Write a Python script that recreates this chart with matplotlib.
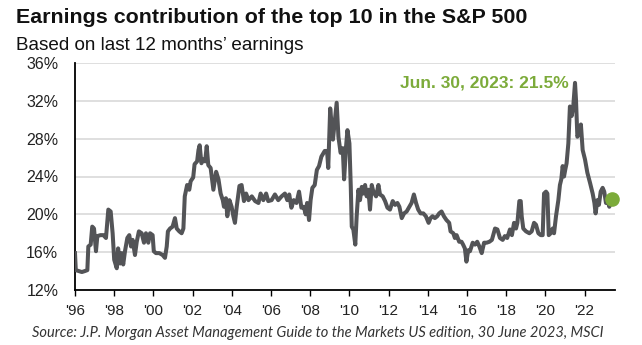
import matplotlib
matplotlib.use("Agg")
import matplotlib.pyplot as plt
import numpy as np

# ---- data (decimal year, % of S&P 500 earnings from top 10) ----
years = [
    1996.00, 1996.04, 1996.20, 1996.35, 1996.50, 1996.63, 1996.68, 1996.80, 1996.88, 1996.97,
    1997.02, 1997.07, 1997.14, 1997.30, 1997.45, 1997.58, 1997.70, 1997.82, 1997.92, 1998.00,
    1998.13, 1998.20, 1998.30, 1998.38, 1998.46, 1998.55, 1998.67, 1998.77, 1998.86, 1998.94,
    1999.06, 1999.15, 1999.26, 1999.40, 1999.52, 1999.62, 1999.74, 1999.83, 1999.96, 2000.02,
    2000.13, 2000.30, 2000.47, 2000.59, 2000.68, 2000.74, 2000.85, 2000.98, 2001.10, 2001.19,
    2001.32, 2001.44, 2001.53, 2001.60, 2001.72, 2001.83, 2001.90, 2002.03, 2002.10, 2002.23,
    2002.30, 2002.36, 2002.45, 2002.55, 2002.64, 2002.72, 2002.80, 2002.92, 2003.06, 2003.20,
    2003.32, 2003.43, 2003.54, 2003.60, 2003.70, 2003.77, 2003.88, 2003.99, 2004.08, 2004.16,
    2004.25, 2004.39, 2004.50, 2004.62, 2004.73, 2004.85, 2005.02, 2005.19, 2005.36, 2005.47,
    2005.61, 2005.75, 2005.86, 2006.03, 2006.20, 2006.37, 2006.54, 2006.71, 2006.83, 2006.93,
    2007.04, 2007.16, 2007.30, 2007.43, 2007.55, 2007.67, 2007.77, 2007.84, 2007.94, 2008.02,
    2008.11, 2008.23, 2008.34, 2008.45, 2008.57, 2008.74, 2008.86, 2008.92, 2009.02, 2009.16,
    2009.35, 2009.44, 2009.55, 2009.66, 2009.73, 2009.83, 2009.90, 2010.00, 2010.07, 2010.12,
    2010.20, 2010.30, 2010.37, 2010.46, 2010.54, 2010.63, 2010.71, 2010.80, 2010.88, 2010.97,
    2011.05, 2011.14, 2011.22, 2011.36, 2011.48, 2011.56, 2011.70, 2011.82, 2011.94, 2012.07,
    2012.21, 2012.33, 2012.45, 2012.55, 2012.67, 2012.79, 2012.92, 2013.06, 2013.17, 2013.29,
    2013.40, 2013.51, 2013.63, 2013.77, 2013.90, 2014.04, 2014.14, 2014.24, 2014.36, 2014.48,
    2014.58, 2014.70, 2014.82, 2014.95, 2015.09, 2015.16, 2015.30, 2015.38, 2015.47, 2015.60,
    2015.72, 2015.80, 2015.89, 2015.97, 2016.06, 2016.15, 2016.29, 2016.41, 2016.52, 2016.63,
    2016.75, 2016.87, 2017.00, 2017.14, 2017.27, 2017.43, 2017.55, 2017.68, 2017.82, 2017.93,
    2018.05, 2018.19, 2018.29, 2018.40, 2018.50, 2018.57, 2018.67, 2018.74, 2018.79, 2018.87,
    2019.01, 2019.18, 2019.30, 2019.42, 2019.52, 2019.64, 2019.76, 2019.86, 2019.93, 2020.03,
    2020.10, 2020.17, 2020.27, 2020.37, 2020.44, 2020.54, 2020.66, 2020.74, 2020.81, 2020.88,
    2020.95, 2021.01, 2021.08, 2021.17, 2021.25, 2021.34, 2021.42, 2021.51, 2021.56, 2021.63,
    2021.73, 2021.81, 2021.90, 2022.02, 2022.14, 2022.28, 2022.41, 2022.50, 2022.56, 2022.65,
    2022.73, 2022.82, 2022.92, 2023.00, 2023.09, 2023.17, 2023.26, 2023.32,
]
pct = [
    15.9, 14.1, 14.0, 13.9, 14.0, 14.1, 16.6, 16.8, 18.7, 18.5,
    17.3, 16.1, 17.7, 17.8, 17.8, 17.5, 20.5, 20.3, 18.0, 15.2,
    14.3, 16.4, 14.8, 15.9, 14.7, 16.1, 17.5, 17.8, 16.6, 17.3,
    15.7, 17.1, 18.2, 18.0, 17.0, 18.0, 17.0, 18.0, 17.8, 16.1,
    15.9, 15.9, 15.7, 15.4, 16.6, 18.2, 18.5, 18.7, 19.6, 18.5,
    18.2, 18.0, 18.5, 21.9, 23.1, 22.6, 23.5, 23.9, 25.3, 25.6,
    26.8, 27.3, 25.4, 25.8, 25.6, 27.2, 25.2, 24.9, 22.6, 24.5,
    23.7, 22.2, 21.5, 20.8, 21.7, 19.8, 21.5, 20.8, 19.8, 19.1,
    20.8, 23.0, 23.1, 21.4, 22.2, 21.5, 21.9, 21.4, 21.2, 22.2,
    21.5, 22.2, 21.4, 21.5, 22.1, 21.5, 21.9, 22.2, 21.5, 22.1,
    20.7, 21.5, 21.2, 22.4, 20.7, 20.8, 20.0, 21.2, 19.4, 21.5,
    22.8, 23.1, 24.7, 25.1, 26.1, 26.7, 26.7, 24.9, 31.2, 27.9,
    31.8, 28.2, 26.5, 27.0, 23.7, 27.2, 28.9, 27.5, 22.9, 18.7,
    18.4, 16.8, 19.8, 22.6, 21.5, 22.9, 22.2, 23.1, 21.9, 22.6,
    20.5, 23.1, 22.4, 21.9, 23.1, 22.1, 21.9, 21.4, 20.7, 20.5,
    21.4, 21.0, 21.2, 20.8, 19.6, 20.1, 20.3, 20.8, 21.2, 22.1,
    21.2, 20.5, 20.1, 20.1, 19.8, 19.1, 19.6, 19.8, 19.6, 19.8,
    20.1, 20.3, 19.8, 19.4, 19.1, 18.2, 18.0, 17.5, 17.8, 17.1,
    17.1, 16.8, 16.4, 15.0, 16.2, 16.1, 17.0, 16.8, 17.1, 16.6,
    15.9, 17.0, 17.0, 17.1, 17.3, 18.5, 18.4, 17.5, 17.3, 17.7,
    17.5, 18.4, 17.8, 19.1, 18.5, 19.1, 21.4, 21.4, 19.8, 18.5,
    18.2, 18.0, 18.2, 19.1, 18.9, 18.0, 17.8, 17.8, 22.2, 22.4,
    22.2, 17.8, 18.0, 18.5, 18.0, 19.8, 21.5, 23.1, 23.7, 25.1,
    24.0, 24.7, 25.4, 27.5, 31.4, 30.4, 31.4, 33.9, 32.1, 28.2,
    28.6, 29.5, 26.8, 25.8, 24.4, 23.3, 22.2, 21.2, 20.1, 21.5,
    21.0, 22.4, 22.8, 22.4, 21.2, 21.5, 20.8, 21.2,
]
latest_year = 2023.40
latest_pct = 21.6
latest_label = "Jun. 30, 2023: 21.5%"

y_ticks = [12, 16, 20, 24, 28, 32, 36]
x_ticks = list(range(1996, 2023, 2))
x_labels = ["'" + str(y)[2:] for y in x_ticks]

title = "Earnings contribution of the top 10 in the S&P 500"
subtitle = "Based on last 12 months\u2019 earnings"
source = "Source: J.P. Morgan Asset Management Guide to the Markets US edition, 30 June 2023, MSCI"

LINE = "#535457"
GREEN = "#7cab3a"

plt.rcParams['font.family'] = ['Liberation Sans', 'DejaVu Sans']

fig = plt.figure(figsize=(6.42, 3.45), dpi=100)
ax = fig.add_axes([75/642, 1-290/345, (615-75)/642, (290-63)/345])

ax.plot(years, pct, color=LINE, lw=2.9, solid_joinstyle='round', zorder=3)
ax.plot([latest_year], [latest_pct], 'o', color=GREEN, ms=9.5, zorder=4,
        clip_on=False)

ax.set_xlim(1996, 2023.55)
ax.set_ylim(12, 36)
ax.set_yticks(y_ticks)
ax.set_yticklabels([f"{v}%" for v in y_ticks])
ax.set_xticks(x_ticks)
ax.set_xticklabels(x_labels)

for v in y_ticks[1:]:
    ax.axhline(v, color="#d9d9d9", lw=1.2, zorder=1)

for s in ['top', 'right']:
    ax.spines[s].set_visible(False)
ax.spines['left'].set_linewidth(1.3)
ax.spines['bottom'].set_linewidth(1.3)
ax.spines['left'].set_color('black')
ax.spines['bottom'].set_color('black')
ax.tick_params(axis='y', length=0, pad=12, labelsize=11.5, colors='#222222')
ax.tick_params(axis='x', length=4, width=1.0, direction='out', pad=6,
               labelsize=11, colors='black', labelcolor='#222222')

ax.text(2021.17, 33.9, latest_label, color=GREEN, fontsize=12.5,
        fontweight='bold', ha='right', va='center')

fig.text(16/642, 1-23.3/345, title, fontsize=15.4, fontweight='bold',
         ha='left', va='baseline', color='#111111')
fig.text(16/642, 1-50/345, subtitle, fontsize=13.6,
         ha='left', va='baseline', color='#111111')
fig.text(318/642, 1-332.5/345, source, fontsize=10.5, style='italic',
         family=['Lato', 'DejaVu Sans'], ha='center', va='center', color='#333333')

fig.savefig("out.png", dpi=100)
